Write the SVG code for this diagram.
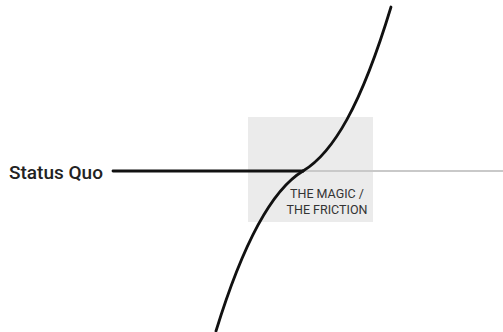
<svg xmlns="http://www.w3.org/2000/svg" width="503" height="332" viewBox="0 0 503 332">
<style>
.lbl{font-family:Roboto,"Liberation Sans",sans-serif;fill:#222;font-weight:500}
.sm{font-family:Roboto,"Liberation Sans",sans-serif;fill:#333;font-weight:400;font-size:12.5px}
.box{fill:#ebebeb}
.ln{fill:none;stroke:#111;stroke-width:2.8;stroke-linecap:round}
.gray{fill:none;stroke:#c9c9c9;stroke-width:2}
</style>
<rect width="503" height="332" fill="#ffffff"/>
<g id="magic">
<rect class="box" x="248" y="117" width="125" height="105"/>
<text class="sm" x="327" y="198" text-anchor="middle">THE MAGIC /</text>
<text class="sm" x="327" y="213.5" text-anchor="middle">THE FRICTION</text>
</g>
<g id="status-quo">
<text class="lbl" x="9" y="178.5" font-size="19">Status Quo</text>
</g>
<g id="connectors">
<line class="gray" x1="300" y1="171" x2="503" y2="171"/>
<line class="ln" x1="113" y1="171" x2="303" y2="171"/>
<path class="ln" d="M303,171 C333,153 361,106 391,7"/>
<path class="ln" d="M303,171 C273,189 244,240 216,331"/>
</g>
</svg>
